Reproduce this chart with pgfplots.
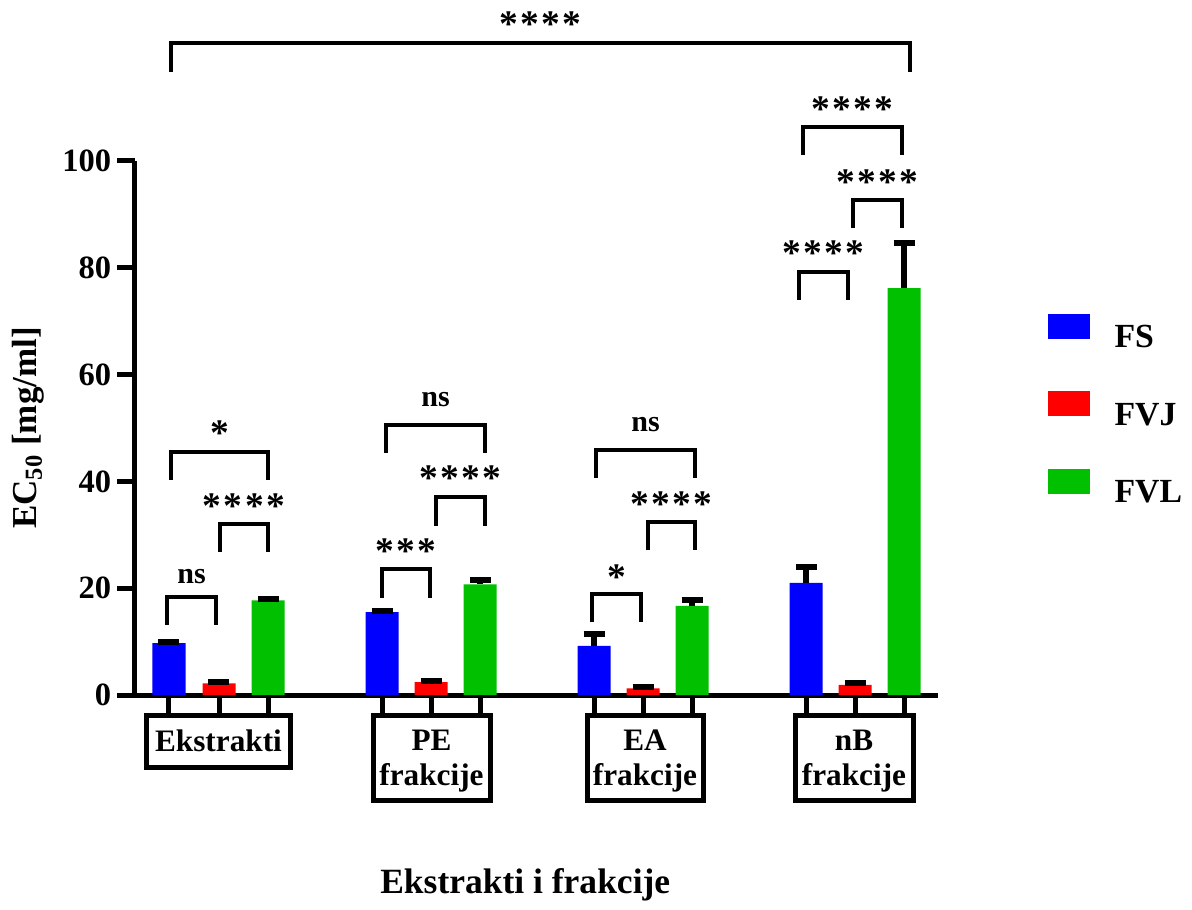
\documentclass[border=0pt]{standalone}
\usepackage{pgfplots}
\pgfplotsset{compat=1.18}
\usepackage{fontspec}
\setmainfont{Liberation Serif}
\definecolor{cfs}{RGB}{0,0,255}
\definecolor{cfvj}{RGB}{255,0,0}
\definecolor{cfvl}{RGB}{0,192,0}
% pixel y (reference) -> data y
\newcommand{\Y}[1]{{(695-#1)/5.34}}
\newcommand{\st}{\textbf{*}}
\newcommand{\sone}{\st}
\newcommand{\sthree}{\st\hspace{1pt}\st\hspace{1pt}\st}
\newcommand{\sfour}{\st\hspace{1pt}\st\hspace{1pt}\st\hspace{1pt}\st}
\newcommand{\brk}[6]{%
  \draw[line width=1.3pt] (axis cs:#1,\Y{#4}) -- (axis cs:#1,\Y{#3}) -- (axis cs:#2,\Y{#3}) -- (axis cs:#2,\Y{#4});
  \node[font=\fontsize{12}{12}\selectfont\bfseries] at (axis cs:{(#1+#2)/2},\Y{#6}) {#5};}
\newcommand{\brs}[6]{%
  \draw[line width=1.3pt] (axis cs:#1,\Y{#4}) -- (axis cs:#1,\Y{#3}) -- (axis cs:#2,\Y{#3}) -- (axis cs:#2,\Y{#4});
  \node[font=\fontsize{15}{15}\selectfont, yshift=-2.6pt] at (axis cs:{(#1+#2)/2},\Y{#6}) {#5};}
\newcommand{\leg}[1]{\draw (axis cs:#1,0) -- (axis cs:#1,\Y{715});}

\pgfplotstableread{
x y e
169 9.7 0.3
382 15.5 0.3
594 9.2 2.3
806 21.0 3.0
}\tfs
\pgfplotstableread{
x y e
219 2.2 0.3
431 2.4 0.3
643 1.25 0.3
855 1.9 0.4
}\tfvj
\pgfplotstableread{
x y e
268 17.7 0.3
480 20.7 0.8
692 16.7 1.1
904 76.2 8.4
}\tfvl

\begin{document}
\begin{tikzpicture}
\begin{axis}[
  scale only axis,
  width=321.2pt, height=213.6pt,
  xmin=135, xmax=938, ymin=0, ymax=100,
  axis x line*=bottom, axis y line*=left,
  axis line style={-, line width=2pt, black},
  xtick=\empty,
  ytick={0,20,...,100},
  tick align=outside,
  major tick length=7pt,
  y tick style={line width=2pt, black},
  /pgf/number format/assume math mode=true,
  yticklabel style={font=\fontsize{13}{13}\selectfont\bfseries, xshift=1pt},
  ylabel={EC\textsubscript{50} [mg/ml]},
  ylabel style={font=\fontsize{14}{14}\selectfont\bfseries, at={(axis description cs:-0.133,0.5)}, anchor=center},
  xlabel={Ekstrakti i frakcije},
  xlabel style={font=\fontsize{14.2}{14.2}\selectfont\bfseries, at={(axis description cs:0.486,-0.356)}, anchor=center},
  clip=false,
  ybar, bar width=33, bar shift=0pt,
  legend style={at={(axis cs:1047,\Y{409})}, anchor=west, draw=none, fill=none,
    font=\fontsize{13.5}{13.5}\selectfont\bfseries, row sep=17pt, inner sep=0pt,
    nodes={inner sep=0pt, text height=9.5pt, text depth=0.5pt},
    /tikz/every odd column/.style={column sep=10pt}},
  legend cell align=left,
  legend image code/.code={\fill (0pt,-1pt) rectangle (16.8pt,9pt);},
  error bars/y dir=plus, error bars/y explicit,
  error bars/error bar style={line width=2.4pt, black},
  error bars/error mark options={rotate=90, mark size=4.2pt, line width=2.4pt, black},
]
\addplot[fill=cfs, draw=none] table[x=x, y=y, y error=e] {\tfs};
\addplot[fill=cfvj, draw=none] table[x=x, y=y, y error=e] {\tfvj};
\addplot[fill=cfvl, draw=none] table[x=x, y=y, y error=e] {\tfvl};
\legend{FS, FVJ, FVL}

% brackets
\brk{167}{216}{597}{625}{ns}{577}
\brs{220}{268}{524}{552}{\sfour}{500}
\brs{171}{268}{452}{480}{\sone}{427}
\brs{382}{430}{569}{598}{\sthree}{545}
\brs{436}{485}{497}{526}{\sfour}{472}
\brk{386}{485}{425}{453}{ns}{400}
\brs{592}{641}{594}{622}{\sone}{571}
\brs{648}{695}{522}{550}{\sfour}{498}
\brk{596}{695}{450}{478}{ns}{425}
\brs{799}{848}{272}{300}{\sfour}{247}
\brs{853}{902}{200}{228}{\sfour}{176}
\brs{803}{902}{127}{155}{\sfour}{103}
\brs{171}{910}{43}{72}{\sfour}{18}

% category boxes
\begin{scope}[line width=2pt]
\leg{169}\leg{219}\leg{268}
\leg{382}\leg{431}\leg{480}
\leg{594}\leg{643}\leg{692}
\leg{806}\leg{855}\leg{904}
\draw (axis cs:147,\Y{715}) rectangle (axis cs:290,\Y{767});
\draw (axis cs:373,\Y{715}) rectangle (axis cs:490,\Y{800});
\draw (axis cs:587,\Y{715}) rectangle (axis cs:703,\Y{800});
\draw (axis cs:795,\Y{715}) rectangle (axis cs:913,\Y{800});
\end{scope}
\begin{scope}[font=\fontsize{12.5}{14}\selectfont\bfseries]
\node at (axis cs:218.5,\Y{741}) {Ekstrakti};
\node[align=center] at (axis cs:431.5,\Y{761}) {PE\\frakcije};
\node[align=center] at (axis cs:645,\Y{761}) {EA\\frakcije};
\node[align=center] at (axis cs:854,\Y{761}) {nB\\frakcije};
\end{scope}
% frame of the reference picture
\path (axis cs:0,\Y{0}) rectangle (axis cs:1192,\Y{903});
\end{axis}
\end{tikzpicture}
\end{document}
